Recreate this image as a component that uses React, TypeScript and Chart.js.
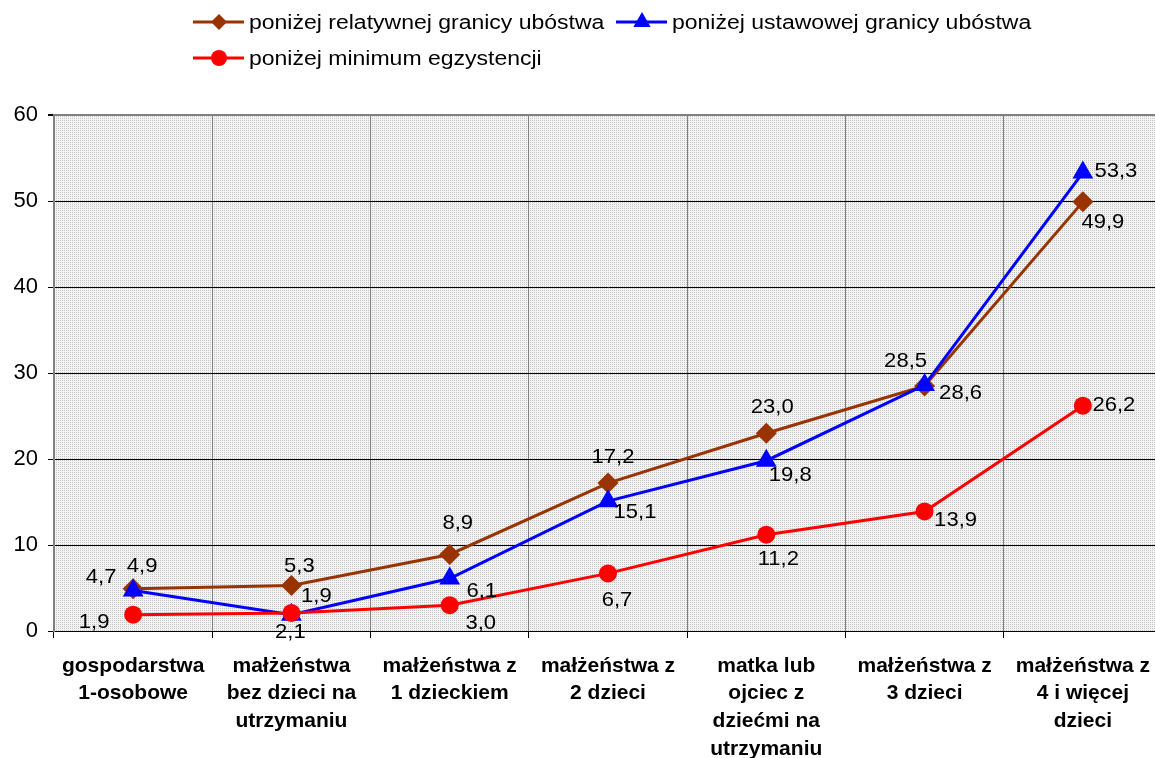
import React, { useEffect, useRef } from "react";
import { Chart, registerables } from "chart.js";

Chart.register(...registerables);

const categories: string[][] = [
  ["gospodarstwa", "1-osobowe"],
  ["małżeństwa", "bez dzieci na", "utrzymaniu"],
  ["małżeństwa z", "1 dzieckiem"],
  ["małżeństwa z", "2 dzieci"],
  ["matka lub", "ojciec z", "dziećmi na", "utrzymaniu"],
  ["małżeństwa z", "3 dzieci"],
  ["małżeństwa z", "4 i więcej", "dzieci"],
];

const seriesNames = [
  "poniżej relatywnej granicy ubóstwa",
  "poniżej ustawowej granicy ubóstwa",
  "poniżej minimum egzystencji",
];

const relatywna = [4.9, 5.3, 8.9, 17.2, 23.0, 28.5, 49.9];
const ustawowa = [4.7, 1.9, 6.1, 15.1, 19.8, 28.6, 53.3];
const minimum = [1.9, 2.1, 3.0, 6.7, 11.2, 13.9, 26.2];

const yTicks = [0, 10, 20, 30, 40, 50, 60];

// label offsets (dx, dy) relative to each point — styling only
const labelOffsets: number[][][] = [
  [[9, -23], [8, -19], [8, -31], [5, -26], [6, -26], [-19, -25], [20, 20]],
  [[-32, -13], [25, -18], [32, 13], [27, 11], [24, 14], [36, 8], [33, -1]],
  [[-39, 8], [-1, 19], [31, 18], [9, 27], [12, 25], [31, 9], [31, 0]],
];

const colors = ["#993300", "#0000ff", "#ff0000"];
const pointStyles = ["rectRot", "triangle", "circle"];
const pointRadii = [10.5, 12, 9];

const FONT = "'Liberation Sans', Arial, sans-serif";
const CANVAS_W = 1174;

function drawMarker(ctx: CanvasRenderingContext2D, style: string, x: number, y: number, r: number) {
  ctx.beginPath();
  if (style === "rectRot") {
    ctx.moveTo(x, y - r);
    ctx.lineTo(x + r, y);
    ctx.lineTo(x, y + r);
    ctx.lineTo(x - r, y);
  } else if (style === "triangle") {
    const edge = (3 * r) / Math.sqrt(3);
    const h = (edge * Math.sqrt(3)) / 2;
    ctx.moveTo(x, y - (2 * h) / 3);
    ctx.lineTo(x + edge / 2, y + h / 3);
    ctx.lineTo(x - edge / 2, y + h / 3);
  } else {
    ctx.arc(x, y, r, 0, Math.PI * 2);
  }
  ctx.closePath();
  ctx.fill();
}

export default function App() {
  const ref = useRef<HTMLCanvasElement | null>(null);

  useEffect(() => {
    document.body.style.overflow = "hidden";
    const canvas = ref.current!;

    const pc = document.createElement("canvas");
    pc.width = 2;
    pc.height = 2;
    const pctx = pc.getContext("2d")!;
    pctx.fillStyle = "#f3f3f3";
    pctx.fillRect(0, 0, 2, 2);
    pctx.fillStyle = "#c6c6c6";
    pctx.fillRect(0, 0, 1, 1);
    const ctx0 = canvas.getContext("2d")!;
    const pattern = ctx0.createPattern(pc, "repeat");

    const bgPlugin = {
      id: "bgPattern",
      beforeDraw(chart: any) {
        const { ctx, chartArea } = chart;
        ctx.save();
        ctx.fillStyle = "#ffffff";
        ctx.fillRect(0, 0, chart.width, chart.height);
        ctx.fillStyle = pattern as any;
        ctx.fillRect(chartArea.left, chartArea.top, chartArea.right - chartArea.left, chartArea.bottom - chartArea.top);
        ctx.restore();
      },
    };

    const labelPlugin = {
      id: "valueLabels",
      afterDatasetsDraw(chart: any) {
        const ctx = chart.ctx as CanvasRenderingContext2D;
        ctx.save();
        ctx.font = `21px ${FONT}`;
        ctx.fillStyle = "#000";
        ctx.textAlign = "center";
        ctx.textBaseline = "middle";
        chart.data.datasets.forEach((ds: any, di: number) => {
          const meta = chart.getDatasetMeta(di);
          meta.data.forEach((pt: any, i: number) => {
            const v = ds.data[i] as number;
            const txt = v.toFixed(1).replace(".", ",");
            const [dx, dy] = labelOffsets[di][i];
            ctx.save();
            ctx.translate(pt.x + dx, pt.y + dy);
            ctx.scale(1.05, 1);
            ctx.fillText(txt, 0, 0);
            ctx.restore();
          });
        });
        ctx.restore();
      },
    };

    const legendItems = [
      { x: 193, y: 22 },
      { x: 616, y: 22 },
      { x: 193, y: 58 },
    ];

    const legendPlugin = {
      id: "customLegend",
      afterDraw(chart: any) {
        const ctx = chart.ctx as CanvasRenderingContext2D;
        ctx.save();
        legendItems.forEach((it, i) => {
          ctx.strokeStyle = colors[i];
          ctx.fillStyle = colors[i];
          ctx.lineWidth = 3;
          ctx.beginPath();
          ctx.moveTo(it.x, it.y);
          ctx.lineTo(it.x + 51, it.y);
          ctx.stroke();
          drawMarker(ctx, pointStyles[i], it.x + 26, it.y, i === 1 ? 10 : 8);
          ctx.fillStyle = "#000";
          ctx.font = `20px ${FONT}`;
          ctx.textAlign = "left";
          ctx.textBaseline = "middle";
          ctx.save();
          ctx.translate(it.x + 56, it.y + 1);
          ctx.scale(1.15, 1);
          ctx.fillText(seriesNames[i], 0, 0);
          ctx.restore();
        });
        ctx.restore();
      },
    };

    const dataSeries = [relatywna, ustawowa, minimum];

    const chart = new Chart(canvas, {
      type: "line",
      data: {
        labels: categories as any,
        datasets: dataSeries.map((d, i) => ({
          label: seriesNames[i],
          data: d,
          borderColor: colors[i],
          backgroundColor: colors[i],
          pointBackgroundColor: colors[i],
          pointBorderColor: colors[i],
          pointStyle: pointStyles[i] as any,
          pointRadius: pointRadii[i],
          pointBorderWidth: 0,
          borderWidth: 3,
          tension: 0,
          fill: false,
          order: 3 - i,
        })),
      },
      options: {
        responsive: false,
        animation: false,
        devicePixelRatio: 1,
        layout: { padding: { top: 115, right: 0, left: 0, bottom: 0 } },
        plugins: {
          legend: { display: false },
          tooltip: { enabled: false },
          title: { display: false },
        },
        scales: {
          x: {
            type: "category",
            offset: true,
            grid: {
              color: "#808080",
              tickColor: "#000",
              tickLength: 7,
              offset: true,
              lineWidth: 1,
            },
            border: { color: "#000", width: 1 },
            ticks: {
              color: "#000",
              font: { family: FONT, size: 21, weight: "bold", lineHeight: 1.32 },
              maxRotation: 0,
              autoSkip: false,
              padding: 14,
            },
            afterFit(scale: any) {
              scale.height = 127;
            },
          },
          y: {
            min: 0,
            max: 60,
            afterBuildTicks(scale: any) {
              scale.ticks = yTicks.map((v) => ({ value: v }));
            },
            grid: {
              color: (c: any) => (c.tick && c.tick.value === 60 ? "#808080" : "#000"),
              tickColor: "#000",
              tickLength: 6,
              lineWidth: (c: any) => (c.tick && c.tick.value === 60 ? 2 : 1),
            },
            border: { color: "#808080", width: 2 },
            ticks: {
              color: "#000",
              font: { family: FONT, size: 22 },
              padding: 10,
            },
            afterFit(scale: any) {
              scale.width = 54;
            },
          },
        },
      },
      plugins: [bgPlugin, labelPlugin, legendPlugin],
    });

    return () => chart.destroy();
  }, []);

  return (
    <div style={{ position: "fixed", left: 0, top: 0, width: 1155, height: 758, overflow: "hidden", background: "#fff" }}>
      <canvas ref={ref} width={CANVAS_W} height={758} style={{ display: "block" }} />
    </div>
  );
}
